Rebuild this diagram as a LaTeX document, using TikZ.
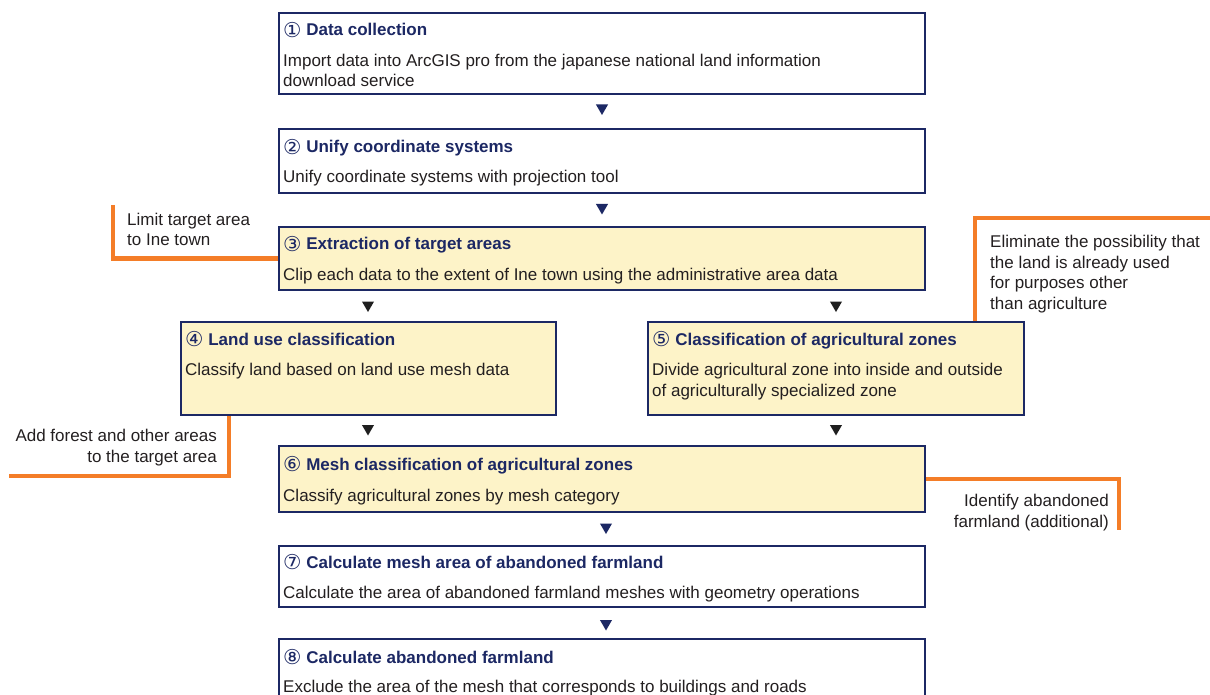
\documentclass[tikz,border=0pt]{standalone}
\usepackage{fontspec}
\setmainfont{Liberation Sans}
\newfontfamily\circfont{DejaVu Sans}
\usetikzlibrary{shapes.geometric}
\definecolor{navy}{RGB}{28,40,100}
\definecolor{cream}{RGB}{253,243,200}
\definecolor{orangeline}{RGB}{244,125,40}
\definecolor{bodytext}{RGB}{35,31,32}
\newcommand{\cnum}[1]{\raisebox{-1.8pt}{\circfont\mdseries\fontsize{20.5}{21}\selectfont #1}}
\begin{document}
\begin{tikzpicture}[x=1pt,y=-1pt,
 box/.style={draw=navy, line width=2pt, fill=white, anchor=north west, inner sep=0pt},
 hbox/.style={box, fill=cream},
 ttl/.style={anchor=base west, inner sep=0pt, font=\fontsize{17}{20.5}\selectfont\bfseries, text=navy},
 txt/.style={anchor=base west, inner sep=0pt, font=\fontsize{17}{20.5}\selectfont, text=bodytext, align=left},
 note/.style={inner sep=0pt, font=\fontsize{17}{20.5}\selectfont, text=bodytext},
 tri/.style={regular polygon, regular polygon sides=3, shape border rotate=180, minimum size=14pt, inner sep=0pt, fill=navy},
 btri/.style={tri, fill=black!88},
 oline/.style={draw=orangeline, line width=4.5pt},
]
\useasboundingbox (0,0) rectangle (1210,695);
\clip (0,0) rectangle (1210,695);

% orange annotation lines (coordinates)
\coordinate (o1s) at (113,205);
\coordinate (o2s) at (1212,218);
\coordinate (o2c) at (975,218);
\coordinate (o3c) at (229,476);
\coordinate (o3e) at (9,476);
\coordinate (o4e) at (1119,530);

% boxes
\node[box,  minimum width=646pt, minimum height=81pt] (b1) at (278,12) {};
\node[box,  minimum width=646pt, minimum height=64pt] (b2) at (278,128) {};
\node[hbox, minimum width=646pt, minimum height=63pt] (b3) at (278,226) {};
\node[hbox, minimum width=375pt, minimum height=93pt] (b4) at (180,321) {};
\node[hbox, minimum width=376pt, minimum height=93pt] (b5) at (647,321) {};
\node[hbox, minimum width=646pt, minimum height=66pt] (b6) at (278,445) {};
\node[box,  minimum width=646pt, minimum height=61pt] (b7) at (278,545) {};
\node[box,  minimum width=646pt, minimum height=90pt] (b8) at (278,638) {};

% orange lines
\draw[oline] (o1s) |- (b3.west);
\draw[oline] (o2s) -- (o2c) -- (o2c |- b5.north);
\draw[oline] (o3c |- b4.south) -- (o3c) -- (o3e);
\draw[oline] (b6.east) -| (o4e);

% box texts
\node[ttl] (t1) at (283,36) {\cnum{①} Data collection};
\node[txt] (d1) at (283,87) {Import data into ArcGIS pro from the japanese national land information\\download service};
\node[ttl] (t2) at (283,153) {\cnum{②} Unify coordinate systems};
\node[txt] (d2) at (283,183) {Unify coordinate systems with projection tool};
\node[ttl] (t3) at (283,250) {\cnum{③} Extraction of target areas};
\node[txt] (d3) at (283,280) {Clip each data to the extent of Ine town using the administrative area data};
\node[ttl] (t4) at (185,345) {\cnum{④} Land use classification};
\node[txt] (d4) at (185,375) {Classify land based on land use mesh data};
\node[ttl] (t5) at (652,345) {\cnum{⑤} Classification of agricultural zones};
\node[txt] (d5) at (652,396) {Divide agricultural zone into inside and outside\\of agriculturally specialized zone};
\node[ttl] (t6) at (283,470) {\cnum{⑥} Mesh classification of agricultural zones};
\node[txt] (d6) at (283,501) {Classify agricultural zones by mesh category};
\node[ttl] (t7) at (283,568) {\cnum{⑦} Calculate mesh area of abandoned farmland};
\node[txt] (d7) at (283,598) {Calculate the area of abandoned farmland meshes with geometry operations};
\node[ttl] (t8) at (283,663) {\cnum{⑧} Calculate abandoned farmland};
\node[txt] (d8) at (283,692) {Exclude the area of the mesh that corresponds to buildings and roads};

% notes
\node[note, anchor=base west, align=left] (n1) at (127,246) {Limit target area\\to Ine town};
\node[note, anchor=base west, align=left] (n2) at (990,309) {Eliminate the possibility that\\the land is already used\\for purposes other\\than agriculture};
\node[note, anchor=base east, align=right] (n3) at (217,462) {Add forest and other areas\\to the target area};
\node[note, anchor=base east, align=right] (n4) at (1109,527) {Identify abandoned\\farmland (additional)};

% flow triangles
\node[tri]  (a12) at (602,108) {};
\node[tri]  (a23) at (602,207.5) {};
\node[btri] (a34) at (368,305) {};
\node[btri] (a35) at (836,305) {};
\node[btri] (a46) at (368,428.5) {};
\node[btri] (a56) at (836,428.5) {};
\node[tri]  (a67) at (606,527) {};
\node[tri]  (a78) at (606,623.5) {};
\end{tikzpicture}
\end{document}
